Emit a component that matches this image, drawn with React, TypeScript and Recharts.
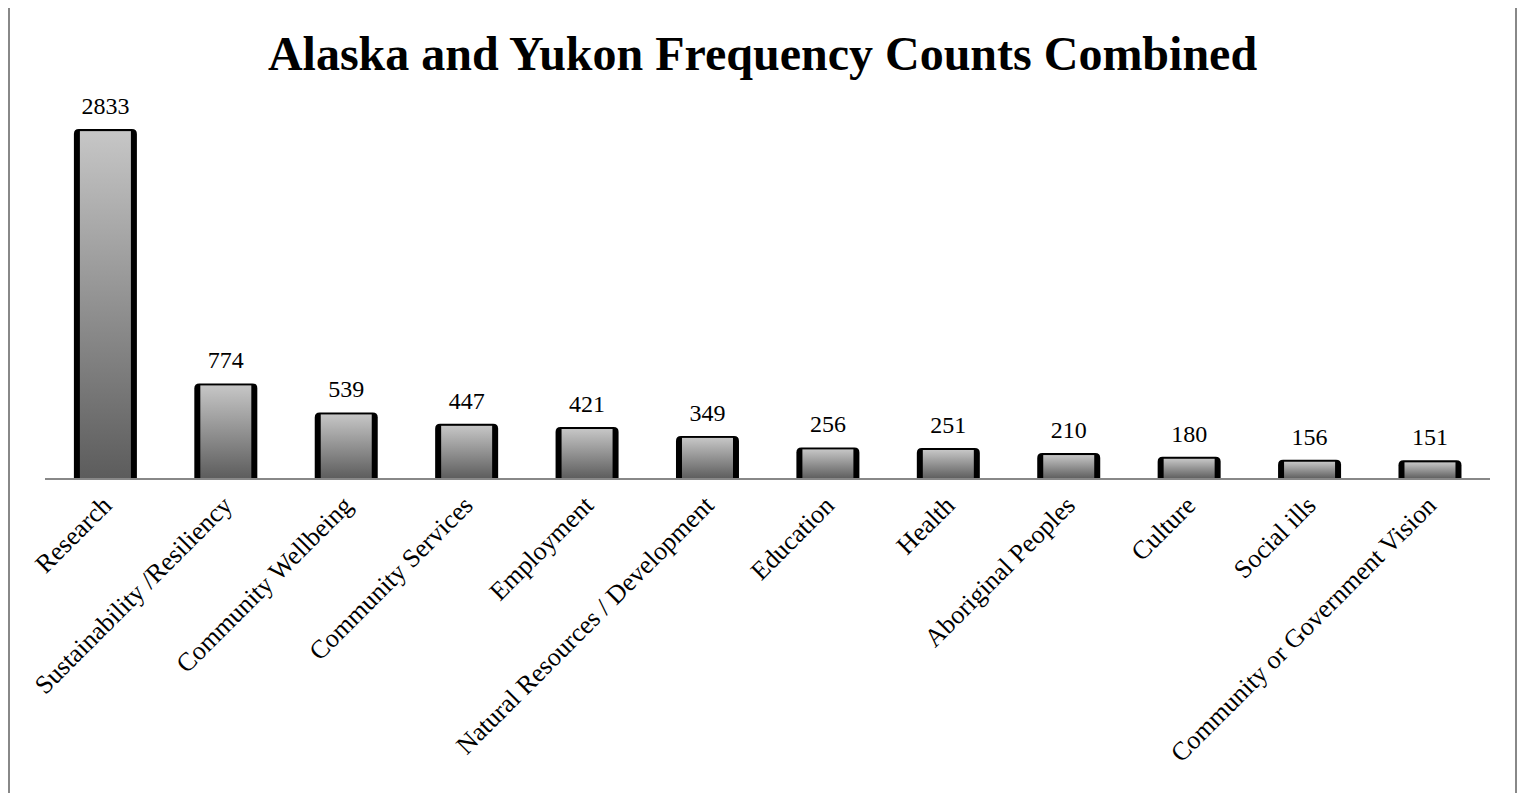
import React from 'react';
import { BarChart, Bar, XAxis, YAxis, LabelList } from 'recharts';

const categories = [
  'Research',
  'Sustainability /Resiliency',
  'Community Wellbeing',
  'Community Services',
  'Employment',
  'Natural Resources / Development',
  'Education',
  'Health',
  'Aboriginal Peoples',
  'Culture',
  'Social ills',
  'Community or Government Vision',
];

const counts = [2833, 774, 539, 447, 421, 349, 256, 251, 210, 180, 156, 151];

const data = categories.map((name, i) => ({ name, count: counts[i] }));

const FONT = '"Liberation Serif", "Times New Roman", serif';

const CylBar = (props: any) => {
  const { x, y, width, height } = props;
  if (height <= 0) return null;
  const r = 5;
  const side = 6;
  const top = 2;
  const outer = `M${x},${y + height} L${x},${y + r} Q${x},${y} ${x + r},${y} L${x + width - r},${y} Q${x + width},${y} ${x + width},${y + r} L${x + width},${y + height} Z`;
  return (
    <g>
      <path d={outer} fill="#000" />
      <rect x={x + side} y={y + top} width={width - side * 2} height={height - top} fill="url(#barGrad)" />
    </g>
  );
};

const Tick = (props: any) => {
  const { x, y, payload } = props;
  const tx = x + 8;
  const ty = y + 20;
  return (
    <text
      x={tx}
      y={ty}
      transform={`rotate(-45, ${tx}, ${ty})`}
      textAnchor="end"
      fontFamily={FONT}
      fontSize={26}
      fill="#000"
    >
      {payload.value}
    </text>
  );
};

const App: React.FC = () => {
  return (
    <div
      style={{
        position: 'relative',
        top: -7,
        width: 1509,
        height: 800,
        border: '2px solid #888',
        boxSizing: 'border-box',
        background: '#fff',
      }}
    >
      <div
        style={{
          position: 'absolute',
          left: 0,
          right: 0,
          top: 23,
          textAlign: 'center',
          fontFamily: FONT,
          fontWeight: 'bold',
          fontSize: 48,
          lineHeight: '55px',
          color: '#000',
        }}
      >
        Alaska and Yukon Frequency Counts Combined
      </div>
      <BarChart
        width={1505}
        height={792}
        data={data}
        margin={{ top: 105.5, right: 25, left: 35, bottom: 0 }}
        barCategoryGap="24%"
      >
        <defs>
          <linearGradient id="barGrad" x1="0" y1="0" x2="0" y2="1">
            <stop offset="0%" stopColor="#c6c6c6" />
            <stop offset="100%" stopColor="#5c5c5c" />
          </linearGradient>
        </defs>
        <YAxis hide domain={[0, 3000]} />
        <XAxis
          dataKey="name"
          interval={0}
          height={316}
          tickLine={false}
          axisLine={{ stroke: '#888', strokeWidth: 2 }}
          tick={<Tick />}
        />
        <Bar dataKey="count" shape={<CylBar />} isAnimationActive={false}>
          <LabelList
            dataKey="count"
            position="top"
            offset={15}
            fontFamily={FONT}
            fontSize={24}
            fill="#000"
          />
        </Bar>
      </BarChart>
    </div>
  );
};

export default App;
